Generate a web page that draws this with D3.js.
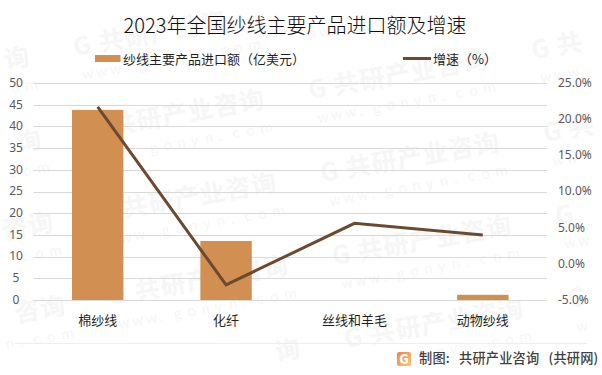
<!DOCTYPE html>
<html><head><meta charset="utf-8">
<script src="https://cdn.jsdelivr.net/npm/d3@7/dist/d3.min.js"></script>
<style>html,body{margin:0;padding:0;background:#fff}svg{display:block}text{font-family:"Noto Sans CJK SC","Noto Sans",sans-serif}</style>
</head><body><div id="c"></div>
<script>
const categories=["棉纱线","化纤","丝线和羊毛","动物纱线"];
const importValues=[43.8,13.6,0,1.2];
const growthValues=[21.7,-2.9,5.6,4.0];
const leftTicks=[0,5,10,15,20,25,30,35,40,45,50];
const rightTicks=[-5,0,5,10,15,20,25];
const titleText="2023年全国纱线主要产品进口额及增速";
const barName="纱线主要产品进口额（亿美元）";
const lineName="增速（%）";
const sourceText="制图: 共研产业咨询 (共研网)";
const wmMain="G共研产业咨询";
const wmSub="www.gonyn.com";
const wmRows=[-2,-1,0,1,2,3];
const wmCols=[-2,-1,0,1];

const W=602,H=375,L=33.5,R=547,T=83,B=300;
const svg=d3.select("#c").append("svg").attr("width",W).attr("height",H);
const defs=svg.append("defs");
const g=defs.append("linearGradient").attr("id","lg").attr("x1",0).attr("y1",0).attr("x2",1).attr("y2",1);
g.append("stop").attr("offset",0).attr("stop-color","#f47f56");
g.append("stop").attr("offset",1).attr("stop-color","#fcc66a");

// watermark lattice: each glyph is placed alone and only if it lies wholly on the canvas
const wm=svg.append("g").attr("class","wm");
const ang=-10*Math.PI/180, cs=Math.cos(ang), sn=Math.sin(ang);
function glyphs(str,ox,oy,dx0,dy0,step,size,weight){
  Array.from(str).forEach((ch,i)=>{
    const lx=dx0+i*step, ly=dy0;
    const px=ox+lx*cs-ly*sn, py=oy+lx*sn+ly*cs;
    if(px<2||px>W-size-2||py-size<8||py>H-10) return;
    wm.append("text").attr("transform",`translate(${px},${py}) rotate(-10)`)
      .attr("font-size",size).attr("font-weight",weight).attr("fill","#f6f6f6").text(ch);
  });
}
wmRows.forEach(r=>wmCols.forEach(c=>{
  const x=310+12*r+223*c, y=99+83*r-40*c;
  glyphs(wmMain,x,y,0,0,26,25,700);
  glyphs(wmSub,x,y,4,25,14,14,400);
}));

const xc=d3.scalePoint().domain(categories).range([L,R]).padding(0.5);
const yL=d3.scaleLinear().domain([0,50]).range([B,T]);
const yR=d3.scaleLinear().domain([-5,25]).range([B,T]);

// grid
svg.append("g").selectAll("line").data(leftTicks).join("line")
 .attr("x1",L).attr("x2",R).attr("y1",d=>Math.round(yL(d))+.5).attr("y2",d=>Math.round(yL(d))+.5)
 .attr("stroke","#d9d9d9").attr("stroke-width",1);

// left axis
const ax=d3.axisLeft(yL).tickValues(leftTicks).tickSize(0).tickPadding(0);
const gl=svg.append("g").attr("transform",`translate(22,-0.5)`).call(ax);
gl.select(".domain").remove();
gl.selectAll("text").attr("font-size",12).attr("fill","#595959").attr("text-anchor","middle").attr("x",-6)
  .style("font-family","'Noto Sans','Open Sans',sans-serif");

// right axis
const ar=d3.axisRight(yR).tickValues(rightTicks).tickSize(0).tickPadding(0).tickFormat(d=>d.toFixed(1)+"%");
const gr=svg.append("g").attr("transform",`translate(558,-0.5)`).call(ar);
gr.select(".domain").remove();
gr.selectAll("text").attr("font-size",12).attr("fill","#595959").attr("dy","0.32em")
  .style("font-family","'Noto Sans','Open Sans',sans-serif");

// bars
svg.append("g").selectAll("rect").data(categories).join("rect")
 .attr("x",d=>xc(d)-25.7).attr("width",51.4)
 .attr("y",(d,i)=>yL(importValues[i])).attr("height",(d,i)=>B-yL(importValues[i]))
 .attr("fill","#d18f52");

// line
const ln=d3.line().x((d,i)=>xc(categories[i])).y(d=>yR(d));
svg.append("path").datum(growthValues).attr("d",ln).attr("fill","none")
 .attr("stroke","#6a4a30").attr("stroke-width",3).attr("stroke-linejoin","miter");

// category labels
svg.append("g").selectAll("text").data(categories).join("text")
 .attr("x",d=>xc(d)).attr("y",320).attr("dy","0.35em").attr("text-anchor","middle")
 .attr("font-size",13).attr("fill","#1f1f1f").text(d=>d);

// title
svg.append("text").attr("x",295).attr("y",26).attr("dy","0.35em").attr("text-anchor","middle")
 .attr("font-size",20).attr("font-weight",300).attr("fill","#0d0d0d").text(titleText);

// legend
svg.append("rect").attr("x",95).attr("y",55).attr("width",25.5).attr("height",7).attr("fill","#d18f52");
svg.append("text").attr("x",123).attr("y",59).attr("dy","0.35em").attr("font-size",13).attr("fill","#1f1f1f").text(barName);
svg.append("line").attr("x1",403).attr("x2",431).attr("y1",58.5).attr("y2",58.5).attr("stroke","#6a4a30").attr("stroke-width",3);
svg.append("text").attr("x",433).attr("y",59).attr("dy","0.35em").attr("font-size",13).attr("fill","#1f1f1f").text(lineName);

// footer
svg.append("line").attr("x1",15).attr("x2",587).attr("y1",343.5).attr("y2",343.5).attr("stroke","#eeeeee");
svg.append("rect").attr("x",397).attr("y",352).attr("width",14).attr("height",14).attr("rx",2).attr("fill","url(#lg)");
svg.append("text").attr("x",404).attr("y",359).attr("dy","0.36em").attr("text-anchor","middle").attr("font-size",13).attr("font-weight",900).attr("fill","#fff").text("G");
svg.append("text").attr("x",419).attr("y",358).attr("dy","0.36em").attr("font-size",13.2).attr("letter-spacing",0.2).attr("word-spacing",6).attr("font-weight",500).attr("fill","#404040").text(sourceText);
</script></body></html>
